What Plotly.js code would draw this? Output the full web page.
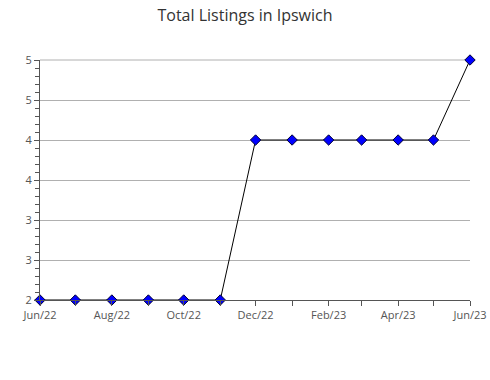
<!DOCTYPE html>
<html>
<head>
<meta charset="utf-8">
<script src="https://cdn.plot.ly/plotly-3.0.1.min.js"></script>
<style>html,body{margin:0;padding:0;background:#fff;}#chart{width:490px;height:380px;}</style>
</head>
<body>
<div id="chart"></div>
<script>
const months = ["2022-06-01","2022-07-01","2022-08-01","2022-09-01","2022-10-01","2022-11-01","2022-12-01","2023-01-01","2023-02-01","2023-03-01","2023-04-01","2023-05-01","2023-06-01"];
const listings = [2,2,2,2,2,2,4,4,4,4,4,4,5];
const titleText = "Total Listings in Ipswich";

const trace = {
  x: months, y: listings, type: "scatter", mode: "lines+markers",
  line: {color: "#000000", width: 1},
  marker: {symbol: "diamond", size: 8, color: "#0000ff", line: {color: "#000033", width: 1}},
  cliponaxis: false, hoverinfo: "skip"
};
const layout = {
  width: 490, height: 380,
  margin: {l: 40, r: 20, t: 60, b: 80},
  paper_bgcolor: "#fff", plot_bgcolor: "#fff",
  showlegend: false,
  font: {family: "Open Sans, sans-serif", size: 11, color: "#555"},
  title: {text: titleText, x: 0.5, xanchor: "center", y: 0.96, yanchor: "middle", font: {family: "Open Sans, sans-serif", size: 16, color: "#333"}},
  shapes: [{type: "line", xref: "paper", yref: "paper", x0: 0, x1: 1, y0: 1, y1: 1, line: {color: "#b0b0b0", width: 1}, layer: "below"}],
  xaxis: {
    type: "date", range: [months[0], months[months.length-1]],
    dtick: "M2", tick0: months[0], tickformat: "%b/%y",
    ticks: "outside", ticklen: 5, tickcolor: "#555", tickwidth: 1,
    showgrid: false, showline: true, linecolor: "#555", linewidth: 1,
    zeroline: false, fixedrange: true,
    minor: {dtick: "M1", tick0: months[0], ticks: "outside", ticklen: 5, tickcolor: "#555", showgrid: false},
    tickfont: {size: 11, color: "#555"}
  },
  yaxis: {
    range: [2, 5], dtick: 0.5, tick0: 2, tickformat: ".0f",
    ticks: "outside", ticklen: 5, tickcolor: "#555",
    showgrid: true, gridcolor: "#b0b0b0", gridwidth: 1,
    showline: true, linecolor: "#555", linewidth: 1,
    zeroline: false, fixedrange: true,
    minor: {dtick: 0.1, tick0: 2, ticks: "outside", ticklen: 4, tickcolor: "#555", showgrid: false},
    tickfont: {size: 11, color: "#555"}
  }
};
Plotly.newPlot("chart", [trace], layout, {displayModeBar: false, staticPlot: true});
</script>
</body>
</html>
